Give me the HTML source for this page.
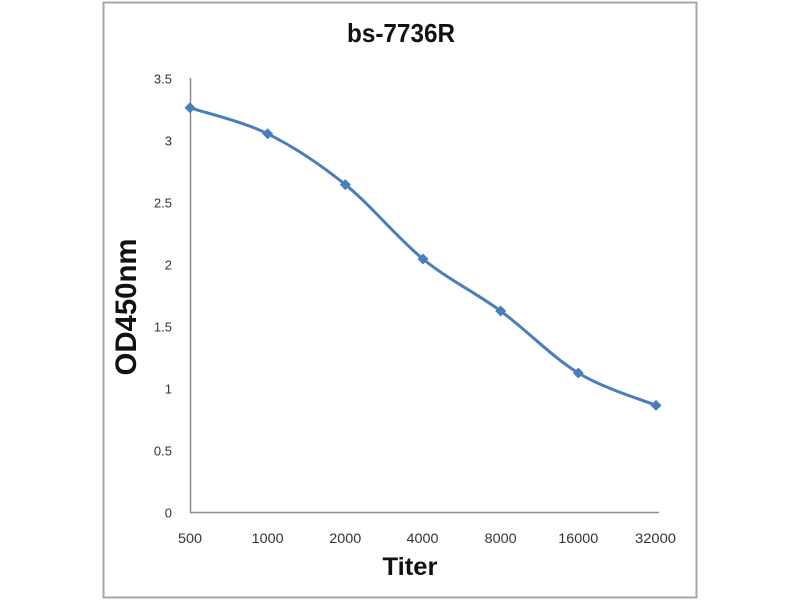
<!DOCTYPE html>
<html>
<head>
<meta charset="utf-8">
<style>
  html,body{margin:0;padding:0;background:#fff;}
  svg{display:block;}
  text{font-family:"Liberation Sans",sans-serif;}
</style>
</head>
<body>
<svg width="800" height="600" viewBox="0 0 800 600" xmlns="http://www.w3.org/2000/svg">
  <rect x="0" y="0" width="800" height="600" fill="#fff"/>
  <!-- outer chart border -->
  <rect x="103.5" y="2.5" width="593" height="595" fill="none" stroke="#a6a6a6" stroke-width="2"/>

  <!-- title -->
  <text x="401" y="42" font-size="26" font-weight="bold" text-anchor="middle" fill="#111" textLength="108" lengthAdjust="spacingAndGlyphs">bs-7736R</text>

  <!-- axes -->
  <line x1="190.5" y1="78" x2="190.5" y2="512.5" stroke="#8c8c8c" stroke-width="1.5"/>
  <line x1="190" y1="512.5" x2="659" y2="512.5" stroke="#8c8c8c" stroke-width="1.5"/>

  <!-- y tick labels -->
  <g font-size="13" fill="#333" text-anchor="end">
    <text x="172" y="83.5">3.5</text>
    <text x="172" y="145.5">3</text>
    <text x="172" y="207.5">2.5</text>
    <text x="172" y="269.5">2</text>
    <text x="172" y="331.5">1.5</text>
    <text x="172" y="393.5">1</text>
    <text x="172" y="455.5">0.5</text>
    <text x="172" y="517.5">0</text>
  </g>

  <!-- x tick labels -->
  <g font-size="13.5" fill="#333" text-anchor="middle">
    <text x="190" y="543" textLength="24" lengthAdjust="spacingAndGlyphs">500</text>
    <text x="267.7" y="543" textLength="32" lengthAdjust="spacingAndGlyphs">1000</text>
    <text x="345.3" y="543" textLength="32" lengthAdjust="spacingAndGlyphs">2000</text>
    <text x="422.5" y="543" textLength="32" lengthAdjust="spacingAndGlyphs">4000</text>
    <text x="500.7" y="543" textLength="32" lengthAdjust="spacingAndGlyphs">8000</text>
    <text x="578.3" y="543" textLength="40" lengthAdjust="spacingAndGlyphs">16000</text>
    <text x="655.5" y="543" textLength="41" lengthAdjust="spacingAndGlyphs">32000</text>
  </g>

  <!-- axis titles -->
  <text x="410" y="575" font-size="25" font-weight="bold" text-anchor="middle" fill="#111" textLength="55" lengthAdjust="spacingAndGlyphs">Titer</text>
  <text x="0" y="0" font-size="30" font-weight="bold" text-anchor="middle" fill="#111" textLength="137" lengthAdjust="spacingAndGlyphs" transform="translate(136,307) rotate(-90)">OD450nm</text>

  <!-- series -->
  <path d="M190,107.8 C202.94,112.13 241.78,121.0 267.67,133.8 C293.56,146.6 319.44,163.73 345.33,184.6 C371.22,205.47 397.11,237.93 423,259 C448.89,280.07 474.78,292 500.67,311 C526.56,330 552.44,357.27 578.33,373 C604.22,388.73 643.06,400 656,405.4"
        fill="none" stroke="#4a7ebb" stroke-width="3" stroke-linejoin="round" stroke-linecap="round"/>
  <g fill="#4a7ebb">
    <polygon points="190,102.3 195.5,107.8 190,113.3 184.5,107.8"/>
    <polygon points="267.67,128.3 273.17,133.8 267.67,139.3 262.17,133.8"/>
    <polygon points="345.33,179.1 350.83,184.6 345.33,190.1 339.83,184.6"/>
    <polygon points="423,253.5 428.5,259 423,264.5 417.5,259"/>
    <polygon points="500.67,305.5 506.17,311 500.67,316.5 495.17,311"/>
    <polygon points="578.33,367.5 583.83,373 578.33,378.5 572.83,373"/>
    <polygon points="656,399.9 661.5,405.4 656,410.9 650.5,405.4"/>
  </g>
</svg>
</body>
</html>
